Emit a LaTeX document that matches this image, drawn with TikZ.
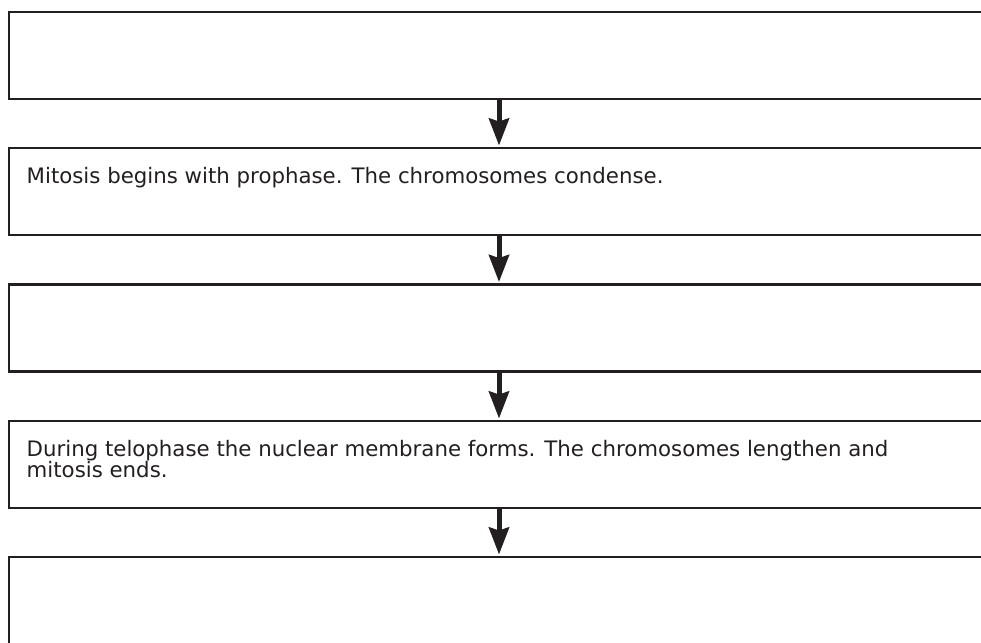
\documentclass[tikz,border=0pt]{standalone}
\usepackage{fontspec}
\setmainfont{DejaVu Sans}
\usetikzlibrary{arrows.meta}
\definecolor{ink}{HTML}{231F20}
\tikzset{
  stagebox/.style={draw=ink, line width=2.4pt, rectangle, minimum width=980pt, minimum height=87pt, inner sep=0pt, outer sep=0pt, anchor=north west},
  txt/.style={anchor=base west, inner sep=0pt, text=ink, font=\fontsize{21.3}{21.7}\selectfont, align=left},
  flow/.style={draw=ink, line width=5pt, -{Stealth[length=27pt, width=20pt, inset=3pt]}, shorten >=2.5pt}
}
\begin{document}
\begin{tikzpicture}[x=1pt,y=-1pt]
\clip (0,0) rectangle (981,642);
\fill[white] (0,0) rectangle (981,642);
\node[stagebox] (b1) at (9,12) {};
\node[stagebox] (b2) at (9,148) {};
\node[stagebox] (b3) at (9,284.5) {};
\node[stagebox] (b4) at (9,421) {};
\node[stagebox] (b5) at (9,557) {};
\node[txt] (t2) at (26.5,183.5) {Mitosis begins with prophase. The chromosomes condense.};
\node[txt, anchor=north west] (t4) at (26.5,439.7) {During telophase the nuclear membrane forms. The chromosomes lengthen and\\mitosis ends.};
\draw[flow] (b1.south) -- (b2.north);
\draw[flow] (b2.south) -- (b3.north);
\draw[flow] (b3.south) -- (b4.north);
\draw[flow] (b4.south) -- (b5.north);
\end{tikzpicture}
\end{document}
